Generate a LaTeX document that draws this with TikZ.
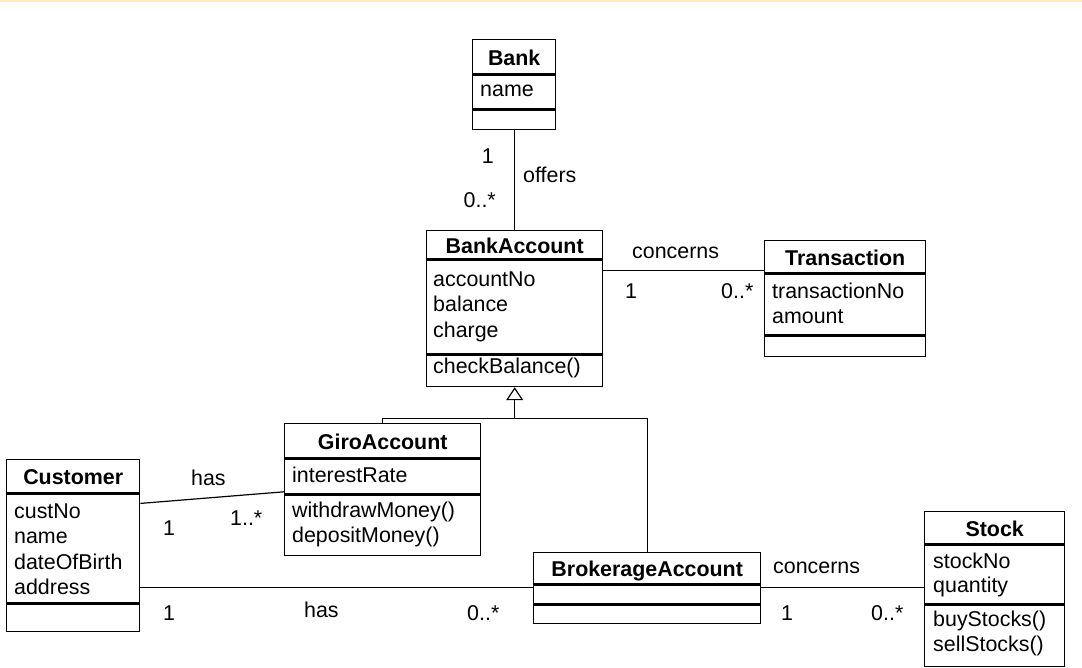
\documentclass[tikz,border=0pt]{standalone}
\usepackage{fontspec}
\setmainfont{Liberation Sans}
\usetikzlibrary{arrows.meta}
\definecolor{edgeband}{RGB}{250,236,190}
\begin{document}
\begin{tikzpicture}[x=1pt, y=-1pt,
  font=\fontsize{21.4}{25.5}\selectfont,
  box/.style={draw, line width=1.4pt, inner sep=0pt, anchor=north west},
  title/.style={box, font=\fontsize{21.4}{25.5}\selectfont\bfseries,
                text height=17pt, text depth=0pt},
  item/.style={inner sep=0pt, anchor=base west},
  multr/.style={inner sep=0pt, anchor=base east},
  multl/.style={inner sep=0pt, anchor=base west},
  link/.style={line width=1.2pt}]
\useasboundingbox (0,0) rectangle (1082,667);
\fill[edgeband] (0,0) rectangle (1082,2);

% Bank
\node[title, minimum width=83pt, minimum height=34pt] (bank-t) at (472,39) {Bank};
\node[box, minimum width=83pt, minimum height=34pt] (bank-a) at (bank-t.south west) {};
\node[box, minimum width=83pt, minimum height=19pt] (bank-m) at (bank-a.south west) {};
\node[item] (bank-a1) at (480,96) {name};

% BankAccount
\node[title, minimum width=176pt, minimum height=28pt] (ba-t) at (426,230) {BankAccount};
\node[box, minimum width=176pt, minimum height=94pt] (ba-a) at (ba-t.south west) {};
\node[box, minimum width=176pt, minimum height=31pt] (ba-m) at (ba-a.south west) {};
\node[item] (ba-a1) at (433,286) {accountNo};
\node[item] (ba-a2) at (433,311.5) {balance};
\node[item] (ba-a3) at (433,337) {charge};
\node[item] (ba-m1) at (433,373) {checkBalance()};

% Transaction
\node[title, minimum width=161pt, minimum height=32pt] (tr-t) at (764,240) {Transaction};
\node[box, minimum width=161pt, minimum height=61pt] (tr-a) at (tr-t.south west) {};
\node[box, minimum width=161pt, minimum height=20pt] (tr-m) at (tr-a.south west) {};
\node[item] (tr-a1) at (772,298) {transactionNo};
\node[item] (tr-a2) at (772,323) {amount};

% GiroAccount
\node[title, minimum width=196pt, minimum height=34pt] (gi-t) at (284,423) {GiroAccount};
\node[box, minimum width=196pt, minimum height=35pt] (gi-a) at (gi-t.south west) {};
\node[box, minimum width=196pt, minimum height=60pt] (gi-m) at (gi-a.south west) {};
\node[item] (gi-a1) at (292,482) {interestRate};
\node[item] (gi-m1) at (292,517) {withdrawMoney()};
\node[item] (gi-m2) at (292,542) {depositMoney()};

% Customer
\node[title, minimum width=133pt, minimum height=33pt] (cu-t) at (6,459) {Customer};
\node[box, minimum width=133pt, minimum height=109pt] (cu-a) at (cu-t.south west) {};
\node[box, minimum width=133pt, minimum height=27pt] (cu-m) at (cu-a.south west) {};
\node[item] (cu-a1) at (14,518) {custNo};
\node[item] (cu-a2) at (14,543.5) {name};
\node[item] (cu-a3) at (14,569) {dateOfBirth};
\node[item] (cu-a4) at (14,594.5) {address};

% BrokerageAccount
\node[title, minimum width=227pt, minimum height=31pt] (br-t) at (533,552) {BrokerageAccount};
\node[box, minimum width=227pt, minimum height=19pt] (br-a) at (br-t.south west) {};
\node[box, minimum width=227pt, minimum height=18pt] (br-m) at (br-a.south west) {};

% Stock
\node[title, minimum width=140pt, minimum height=32pt] (st-t) at (924,511) {Stock};
\node[box, minimum width=140pt, minimum height=59pt] (st-a) at (st-t.south west) {};
\node[box, minimum width=140pt, minimum height=61pt] (st-m) at (st-a.south west) {};
\node[item] (st-a1) at (933,568) {stockNo};
\node[item] (st-a2) at (933,592.5) {quantity};
\node[item] (st-m1) at (933,626) {buyStocks()};
\node[item] (st-m2) at (933,651.5) {sellStocks()};

% Bank -- BankAccount
\draw[link] (bank-m.south) -- (bank-m.south |- ba-t.north);
\node[multr] (m-bank1) at (494,163) {1};
\node[multl] (m-offers) at (523,182) {offers};
\node[multr] (m-bank2) at (496,207) {0..*};

% BankAccount -- Transaction
\coordinate (c1) at ([yshift=-11pt]ba-a.north east);
\draw[link] (c1) -- (c1 -| tr-t.west);
\node[multl] (m-conc1) at (632,258) {concerns};
\node[multl] (m-ba1) at (625,298) {1};
\node[multl] (m-tr1) at (721,298) {0..*};

% Customer -- GiroAccount
\coordinate (h1) at ([yshift=-10pt]cu-a.north east);
\coordinate (h2) at ([yshift=3pt]gi-a.south west);
\draw[link] (h1) -- (h2);
\node[multl] (m-has1) at (191,485) {has};
\node[multl] (m-cu1) at (163,535) {1};
\node[multl] (m-gi1) at (230,525) {1..*};

% Customer -- BrokerageAccount
\coordinate (h3) at ([yshift=-3pt]br-a.north west);
\draw[link] (h3 -| cu-a.east) -- (h3);
\node[multl] (m-cu2) at (163,620) {1};
\node[multl] (m-has2) at (304,617) {has};
\node[multl] (m-br1) at (467,620) {0..*};

% BrokerageAccount -- Stock
\coordinate (c2) at ([yshift=-3pt]br-a.north east);
\draw[link] (c2) -- (c2 -| st-a.west);
\node[multl] (m-conc2) at (773,573) {concerns};
\node[multl] (m-br2) at (781,620) {1};
\node[multl] (m-st1) at (871,620) {0..*};

% Generalisation
\coordinate (gen) at ([yshift=-31pt]ba-m.south);
\draw[link] (gi-t.north) |- (gen) -| (br-t.north);
\draw[link, -{Triangle[open, width=17pt, length=13pt]}] (gen) -- (ba-m.south);
\end{tikzpicture}
\end{document}
